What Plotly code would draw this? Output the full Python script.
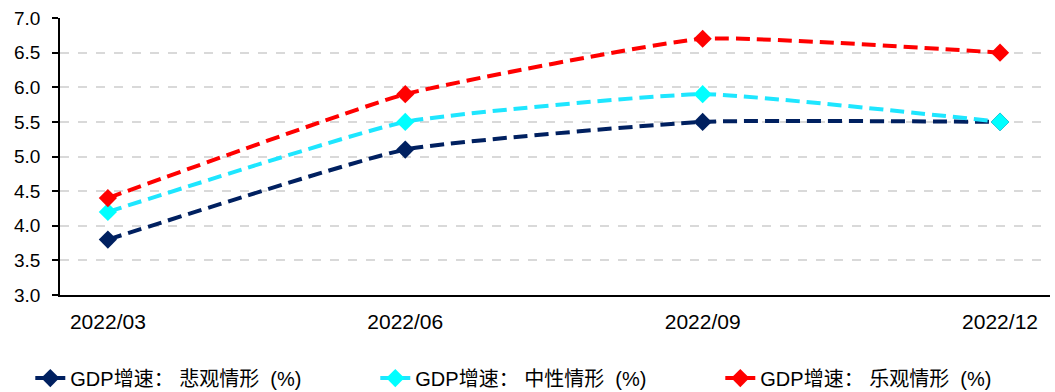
import plotly.graph_objects as go

categories = ["2022/03", "2022/06", "2022/09", "2022/12"]
pessimistic = [3.8, 5.1, 5.5, 5.5]
neutral = [4.2, 5.5, 5.9, 5.5]
optimistic = [4.4, 5.9, 6.7, 6.5]
names = ["GDP增速： 悲观情形  (%)", "GDP增速： 中性情形  (%)", "GDP增速： 乐观情形  (%)"]
y_ticks = [3.0, 3.5, 4.0, 4.5, 5.0, 5.5, 6.0, 6.5, 7.0]

FONT = "Arial, 'Liberation Sans', 'Noto Sans CJK SC', sans-serif"

fig = go.Figure()
series = [
    (pessimistic, names[0], "#002060", "#002060"),
    (neutral, names[1], "#1EE6FF", "#00FFFF"),
    (optimistic, names[2], "#FF0000", "#FF0000"),
]
for vals, name, lc, mc in series:
    fig.add_trace(go.Scatter(
        x=categories, y=vals, name=name, mode="lines+markers",
        line=dict(color=lc, width=4, dash="14px,7px", shape="spline", smoothing=0.4),
        marker=dict(symbol="diamond", size=14, color=mc),
    ))

n = len(categories)
x_range = [-0.161, n - 1 + 0.168]
fig.update_layout(
    width=1055, height=392,
    margin=dict(l=60, r=5, t=18, b=97, autoexpand=False),
    paper_bgcolor="white", plot_bgcolor="white",
    font=dict(family=FONT, size=19, color="black"),
    showlegend=True,
    legend=dict(orientation="h", x=-0.030, xanchor="left",
                y=-0.30, yanchor="middle",
                font=dict(size=20), entrywidth=300,
                traceorder="normal"),
    xaxis=dict(type="category", range=x_range, showline=True, linecolor="black",
               linewidth=1.5, ticks="", showgrid=False, ticklabelstandoff=7,
               tickfont=dict(size=21)),
    xaxis2=dict(overlaying="x", anchor="y", range=x_range, showline=False,
                showgrid=False, zeroline=False, showticklabels=False,
                ticks="outside", ticklen=6, tickwidth=1.5, tickcolor="black",
                tickvals=[i - 0.166 for i in range(n)]),
    yaxis=dict(range=[3.0, 7.0], tickvals=y_ticks, tickformat=".1f",
               showline=True, linecolor="black", linewidth=1.5,
               ticks="outside", ticklen=6, tickwidth=1.5, tickcolor="black",
               showgrid=True, gridcolor="#D9D9D9", gridwidth=1.5, griddash="dash",
               zeroline=False, ticklabelstandoff=8, tickfont=dict(size=19)),
)

fig.write_html("out.html")
